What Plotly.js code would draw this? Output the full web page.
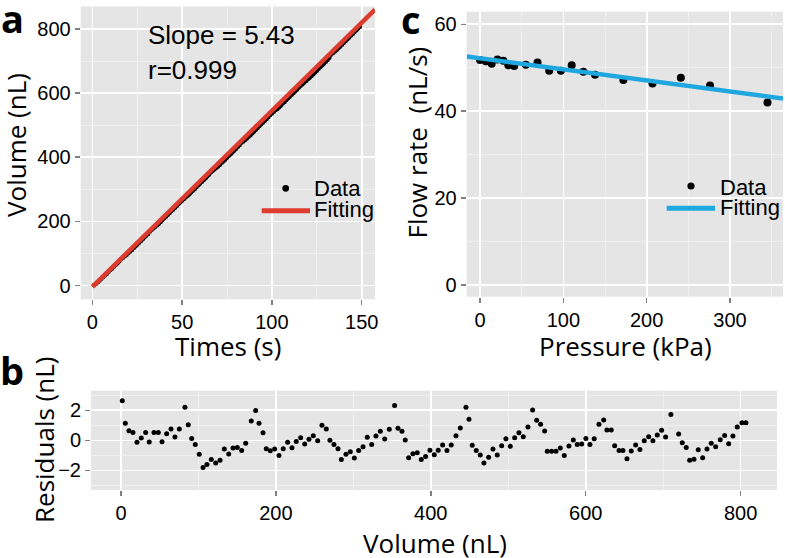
<!DOCTYPE html>
<html>
<head>
<meta charset="utf-8">
<script src="https://cdn.plot.ly/plotly-3.0.1.min.js"></script>
<style>
  html, body { margin: 0; padding: 0; background: #fff; }
  #plotArea { width: 785px; height: 558px; }
</style>
</head>
<body>
<div id="plotArea"></div>
<script>
// panel a: volume against time (one reading per second)
var times = [1,2,3,4,5,6,7,8,9,10,11,12,13,14,15,16,17,18,19,20,21,22,23,24,25,26,27,28,29,30,
  31,32,33,34,35,36,37,38,39,40,41,42,43,44,45,46,47,48,49,50,51,52,53,54,55,56,57,58,59,60,
  61,62,63,64,65,66,67,68,69,70,71,72,73,74,75,76,77,78,79,80,81,82,83,84,85,86,87,88,89,90,
  91,92,93,94,95,96,97,98,99,100,101,102,103,104,105,106,107,108,109,110,111,112,113,114,115,
  116,117,118,119,120,121,122,123,124,125,126,127,128,129,130,131,132,133,134,135,136,137,138,
  139,140,141,142,143,144,145,146,147,148,149];

var volumes = [1.7,5.6,10.3,15.5,20.7,26.2,31.9,36.5,42.6,48.2,53.0,59.0,64.6,69.7,75.3,82.6,86.9,91.3,95.9,101.1,
  105.9,111.0,116.6,122.3,127.9,133.4,139.1,144.6,150.2,155.8,161.0,168.2,173.9,178.2,183.4,187.6,192.8,198.4,204.0,209.5,
  215.2,220.8,226.3,232.0,237.2,242.7,248.3,254.0,259.5,265.1,269.8,275.0,280.2,284.5,290.5,296.1,301.3,306.9,312.5,318.0,
  323.7,329.2,334.8,340.5,346.4,353.3,357.6,362.8,367.0,371.4,376.9,382.5,387.7,393.3,398.9,404.5,409.6,415.3,420.9,426.4,
  432.5,438.1,445.4,449.3,453.5,458.7,463.9,468.6,474.7,480.3,485.8,491.5,497.0,502.6,508.3,513.8,519.4,525.5,531.5,536.7,
  541.8,547.0,550.4,556.0,561.6,567.2,572.3,578.4,584.0,589.1,594.8,600.3,605.5,611.0,617.1,623.2,627.4,633.0,637.4,643.0,
  648.1,653.3,658.8,664.5,670.0,675.6,681.3,686.8,692.4,698.0,703.2,710.0,720.0,724.7,729.8,734.2,739.8,745.3,751.0,756.6,
  762.1,767.8,773.7,779.4,784.6,790.1,795.7,801.8,806.9];

var fitTimes = [0, 157.4];
var fitVolumes = [-4, 860];

// panel b: residuals of the linear fit
var residuals = [2.64,1.13,0.64,0.53,-0.13,0.15,0.53,-0.11,0.53,0.53,-0.09,0.44,0.75,0.22,0.75,2.2,1.04,0.13,-0.27,-0.93,
  -1.8,-1.6,-1.27,-1.51,-1.33,-0.58,-0.91,-0.51,-0.47,-0.67,-0.2,1.29,1.98,1.13,0.51,-0.56,-0.69,-0.58,-1.0,-0.56,
  -0.13,-0.49,-0.07,0.18,-0.24,0.07,0.31,-0.02,1.0,0.75,0.0,-0.27,-0.56,-1.27,-0.93,-0.76,-1.18,-0.67,-0.42,0.2,
  -0.27,0.29,0.6,0.09,0.74,2.31,0.8,0.6,0.02,-1.16,-0.89,-0.83,-1.27,-1.07,-0.65,-0.96,-0.65,-0.31,-0.67,-0.31,
  0.31,0.82,2.2,1.4,-0.33,-0.67,-0.98,-1.51,-1.13,-0.58,-0.98,-0.36,0.11,-0.4,0.18,0.51,0.24,0.89,2.02,1.33,
  1.07,0.62,-0.73,-0.73,-0.73,-0.51,-1.0,-0.38,0.02,-0.27,-0.24,0.13,-0.27,0.11,1.07,1.35,0.69,0.69,-0.36,-0.67,
  -0.67,-1.22,-0.71,-0.31,-0.6,-0.02,0.24,-0.02,0.35,0.67,0.22,1.71,0.42,-0.16,-0.47,-1.33,-1.25,-0.62,-1.16,-0.58,
  -0.2,-0.42,0.04,0.33,-0.22,0.29,0.89,1.17,1.17];

// panel c: flow rate against pressure
var pressures = [0, 7, 14, 21, 28, 34, 41, 55, 69, 83, 97, 110, 124, 138, 172, 207, 241, 276, 345];
var flowRates = [51.8, 51.5, 50.9, 51.9, 51.6, 50.6, 50.4, 50.7, 51.2, 49.3, 49.3, 50.6, 49.1, 48.4, 47.2, 46.4, 47.7, 45.9, 42.0];
var fitPressures = [-16, 363.6];
var fitFlowRates = [52.6, 42.9];

var red = '#DC3B2E';
var blue = '#1FA8E0';

function px(x) { return x / 785; }
function py(y) { return 1 - y / 558; }

var tickFont = {family: 'Liberation Sans, Arial, sans-serif', size: 20, color: '#000'};
var titleFont = {family: 'Open Sans, sans-serif', size: 26, color: '#000'};
var labelFont = {family: 'Liberation Sans, Arial, sans-serif', size: 22, color: '#000'};
var letterFont = {family: 'Open Sans, sans-serif', size: 38, color: '#000', weight: 'bold'};

function axis(extra) {
  var base = {
    showline: false, zeroline: false,
    ticks: 'outside', ticklen: 5, tickwidth: 1.5, tickcolor: '#808080',
    tickfont: tickFont, showgrid: true, gridcolor: '#ffffff', gridwidth: 1.7,
    fixedrange: true
  };
  for (var k in extra) base[k] = extra[k];
  return base;
}

var minorGrid = {showgrid: true, gridcolor: '#f2f2f2', gridwidth: 0.8, tick0: 0};
function minor(step) { var m = {dtick: step}; for (var k in minorGrid) m[k] = minorGrid[k]; return m; }

var data = [
  {x: times, y: volumes, mode: 'markers', type: 'scatter', xaxis: 'x', yaxis: 'y',
   marker: {color: '#000', size: 4.5}, showlegend: false},
  {x: fitTimes, y: fitVolumes, mode: 'lines', type: 'scatter', xaxis: 'x', yaxis: 'y',
   line: {color: red, width: 4.5}, showlegend: false},
  {x: pressures, y: flowRates, mode: 'markers', type: 'scatter', xaxis: 'x2', yaxis: 'y2',
   marker: {color: '#000', size: 8}, showlegend: false},
  {x: fitPressures, y: fitFlowRates, mode: 'lines', type: 'scatter', xaxis: 'x2', yaxis: 'y2',
   line: {color: blue, width: 4.5}, showlegend: false},
  {x: volumes, y: residuals, mode: 'markers', type: 'scatter', xaxis: 'x3', yaxis: 'y3',
   marker: {color: '#000', size: 5}, showlegend: false}
];

var layout = {
  width: 785, height: 558,
  margin: {l: 0, r: 0, t: 0, b: 0},
  paper_bgcolor: '#ffffff',
  plot_bgcolor: '#E5E5E5',
  showlegend: false,
  xaxis: axis({domain: [px(80.7), px(375)], anchor: 'y', range: [-6.5, 157.4],
    tickvals: [0, 50, 100, 150], minor: minor(25)}),
  yaxis: axis({domain: [py(299.3), py(6.5)], anchor: 'x', range: [-43, 870],
    tickvals: [0, 200, 400, 600, 800], minor: minor(100)}),
  xaxis2: axis({domain: [px(466.7), px(783)], anchor: 'y2', range: [-16, 363.6],
    tickvals: [0, 100, 200, 300], minor: minor(50)}),
  yaxis2: axis({domain: [py(296.7), py(11.7)], anchor: 'x2', range: [-2.7, 62.9],
    tickvals: [0, 20, 40, 60], minor: minor(10)}),
  xaxis3: axis({domain: [px(91), px(777)], anchor: 'y3', range: [-38.7, 847],
    tickvals: [0, 200, 400, 600, 800], minor: minor(100)}),
  yaxis3: axis({domain: [py(490), py(390.7)], anchor: 'x3', range: [-3.3, 3.3],
    tickvals: [-2, 0, 2], minor: minor(1)}),
  shapes: [
    {type: 'circle', xref: 'paper', yref: 'paper', x0: px(282.3), x1: px(289.1), y0: py(191.7), y1: py(184.9),
     fillcolor: '#000', line: {width: 0}},
    {type: 'line', xref: 'paper', yref: 'paper', x0: px(261.7), x1: px(310), y0: py(210.7), y1: py(210.7),
     line: {color: red, width: 5}},
    {type: 'circle', xref: 'paper', yref: 'paper', x0: px(687.4), x1: px(694.6), y0: py(189.6), y1: py(182.4),
     fillcolor: '#000', line: {width: 0}},
    {type: 'line', xref: 'paper', yref: 'paper', x0: px(666.7), x1: px(715), y0: py(208.3), y1: py(208.3),
     line: {color: blue, width: 5}}
  ],
  annotations: [
    // panel letters
    {text: 'a', x: px(12), y: py(18), xanchor: 'center', yanchor: 'middle', font: letterFont},
    {text: 'c', x: px(411), y: py(19), xanchor: 'center', yanchor: 'middle', font: letterFont},
    {text: 'b', x: px(12), y: py(370), xanchor: 'center', yanchor: 'middle', font: letterFont},
    // axis titles
    {text: 'Volume (nL)', x: px(16), y: py(145), textangle: -90, xanchor: 'center', yanchor: 'middle', font: titleFont},
    {text: 'Times (s)', x: px(228), y: py(346), xanchor: 'center', yanchor: 'middle', font: titleFont},
    {text: 'Flow rate\u00a0\u00a0(nL/s)', x: px(416), y: py(142.5), textangle: -90, xanchor: 'center', yanchor: 'middle', font: titleFont},
    {text: 'Pressure (kPa)', x: px(625), y: py(346), xanchor: 'center', yanchor: 'middle', font: titleFont},
    {text: 'Residuals (nL)', x: px(44), y: py(440), textangle: -90, xanchor: 'center', yanchor: 'middle', font: titleFont},
    {text: 'Volume (nL)', x: px(435), y: py(543), xanchor: 'center', yanchor: 'middle', font: titleFont},
    // fit statistics
    {text: 'Slope = 5.43', x: px(146.7), y: py(35), xanchor: 'left', yanchor: 'middle',
     font: {family: 'Liberation Sans, Arial, sans-serif', size: 26, color: '#000'}},
    {text: 'r=0.999', x: px(146.7), y: py(70), xanchor: 'left', yanchor: 'middle',
     font: {family: 'Liberation Sans, Arial, sans-serif', size: 26, color: '#000'}},
    // legend labels
    {text: 'Data', x: px(313), y: py(189), xanchor: 'left', yanchor: 'middle', font: labelFont},
    {text: 'Fitting', x: px(313), y: py(209), xanchor: 'left', yanchor: 'middle', font: labelFont},
    {text: 'Data', x: px(719), y: py(187), xanchor: 'left', yanchor: 'middle', font: labelFont},
    {text: 'Fitting', x: px(719), y: py(208), xanchor: 'left', yanchor: 'middle', font: labelFont}
  ].map(function (a) { a.xref = 'paper'; a.yref = 'paper'; a.showarrow = false; a.borderpad = 0; return a; })
};

Plotly.newPlot('plotArea', data, layout, {displayModeBar: false, staticPlot: true});
</script>
</body>
</html>
